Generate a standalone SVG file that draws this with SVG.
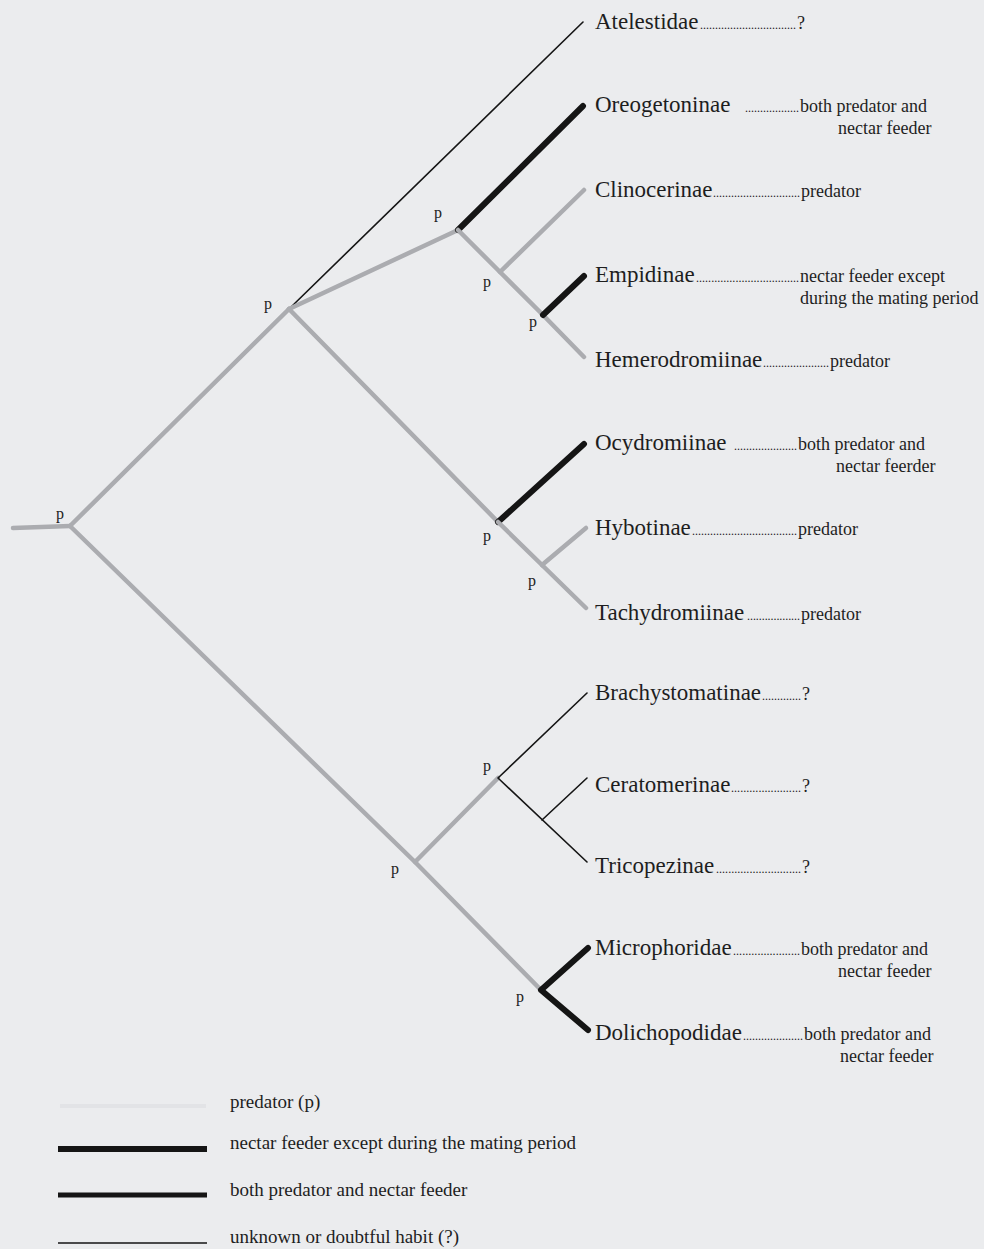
<svg xmlns="http://www.w3.org/2000/svg" width="984" height="1249" viewBox="0 0 984 1249">
<style>
.bg{fill:#ebecee}
.pr{fill:none;stroke:#abacb0;stroke-width:4.5;stroke-linecap:round;stroke-linejoin:round}
.nf{fill:none;stroke:#151515;stroke-width:6;stroke-linecap:round;stroke-linejoin:round}
.uk{fill:none;stroke:#151515;stroke-width:1.6;stroke-linecap:round;stroke-linejoin:round}
.nm{font-family:'Liberation Serif','Times New Roman',serif;font-size:23px;fill:#1e1e1e}
.dt{font-family:'Liberation Serif','Times New Roman',serif;font-size:12px;fill:#222}
.ds{font-family:'Liberation Serif','Times New Roman',serif;font-size:18px;fill:#1e1e1e}
.p{font-family:'Liberation Serif','Times New Roman',serif;font-size:16px;fill:#222;text-anchor:middle}
.lg{font-family:'Liberation Serif','Times New Roman',serif;font-size:19px;fill:#1e1e1e}
</style>
<rect class="bg" x="0" y="0" width="984" height="1249"/>
<g id="connectors">
<polyline class="pr" points="13,528 70,526"/>
<polyline class="pr" points="70,526 289,309"/>
<polyline class="pr" points="70,526 415,862 541,990"/>
<polyline class="uk" points="289,309 583,22"/>
<polyline class="pr" points="289,309 458,230"/>
<polyline class="pr" points="289,309 498,522"/>
<polyline class="nf" points="458,230 583,106"/>
<polyline class="pr" points="458,230 500,272 543,315 584,357"/>
<polyline class="pr" points="500,272 584,190"/>
<polyline class="nf" points="543,315 584,276"/>
<polyline class="nf" points="498,522 584,444"/>
<polyline class="pr" points="498,522 542,565 586,608"/>
<polyline class="pr" points="542,565 586,528"/>
<polyline class="pr" points="415,862 498,778"/>
<polyline class="uk" points="587,693 498,778 587,862"/>
<polyline class="uk" points="542,820 587,778"/>
<polyline class="nf" points="588,948 541,990 588,1030"/>
</g>
<g id="node-labels">
<text class="p" x="60" y="519">p</text>
<text class="p" x="268" y="309">p</text>
<text class="p" x="438" y="218">p</text>
<text class="p" x="487" y="287">p</text>
<text class="p" x="533" y="327">p</text>
<text class="p" x="487" y="541">p</text>
<text class="p" x="532" y="586">p</text>
<text class="p" x="487" y="771">p</text>
<text class="p" x="395" y="874">p</text>
<text class="p" x="520" y="1002">p</text>
</g>
<g id="atelestidae"><text class="nm" x="595" y="29">Atelestidae</text><text class="dt" x="700" y="29" textLength="96" lengthAdjust="spacing">................................</text><text class="ds" x="797" y="29">?</text></g>
<g id="oreogetoninae"><text class="nm" x="595" y="112">Oreogetoninae</text><text class="dt" x="745" y="112" textLength="54" lengthAdjust="spacing">..................</text><text class="ds" x="800" y="112">both predator and</text><text class="ds" x="838" y="134">nectar feeder</text></g>
<g id="clinocerinae"><text class="nm" x="595" y="197">Clinocerinae</text><text class="dt" x="713" y="197" textLength="87" lengthAdjust="spacing">.............................</text><text class="ds" x="801" y="197">predator</text></g>
<g id="empidinae"><text class="nm" x="595" y="282">Empidinae</text><text class="dt" x="696" y="282" textLength="103" lengthAdjust="spacing">..................................</text><text class="ds" x="800" y="282">nectar feeder except</text><text class="ds" x="800" y="304">during the mating period</text></g>
<g id="hemerodromiinae"><text class="nm" x="595" y="367">Hemerodromiinae</text><text class="dt" x="763" y="367" textLength="66" lengthAdjust="spacing">......................</text><text class="ds" x="830" y="367">predator</text></g>
<g id="ocydromiinae"><text class="nm" x="595" y="450">Ocydromiinae</text><text class="dt" x="734" y="450" textLength="63" lengthAdjust="spacing">.....................</text><text class="ds" x="798" y="450">both predator and</text><text class="ds" x="836" y="472">nectar feerder</text></g>
<g id="hybotinae"><text class="nm" x="595" y="535">Hybotinae</text><text class="dt" x="692" y="535" textLength="105" lengthAdjust="spacing">...................................</text><text class="ds" x="798" y="535">predator</text></g>
<g id="tachydromiinae"><text class="nm" x="595" y="620">Tachydromiinae</text><text class="dt" x="747" y="620" textLength="53" lengthAdjust="spacing">..................</text><text class="ds" x="801" y="620">predator</text></g>
<g id="brachystomatinae"><text class="nm" x="595" y="700">Brachystomatinae</text><text class="dt" x="762" y="700" textLength="39" lengthAdjust="spacing">.............</text><text class="ds" x="802" y="700">?</text></g>
<g id="ceratomerinae"><text class="nm" x="595" y="792">Ceratomerinae</text><text class="dt" x="731" y="792" textLength="70" lengthAdjust="spacing">.......................</text><text class="ds" x="802" y="792">?</text></g>
<g id="tricopezinae"><text class="nm" x="595" y="873">Tricopezinae</text><text class="dt" x="716" y="873" textLength="85" lengthAdjust="spacing">............................</text><text class="ds" x="802" y="873">?</text></g>
<g id="microphoridae"><text class="nm" x="595" y="955">Microphoridae</text><text class="dt" x="733" y="955" textLength="67" lengthAdjust="spacing">......................</text><text class="ds" x="801" y="955">both predator and</text><text class="ds" x="838" y="977">nectar feeder</text></g>
<g id="dolichopodidae"><text class="nm" x="595" y="1040">Dolichopodidae</text><text class="dt" x="743" y="1040" textLength="60" lengthAdjust="spacing">....................</text><text class="ds" x="804" y="1040">both predator and</text><text class="ds" x="840" y="1062">nectar feeder</text></g>
<g id="legend">
<line x1="60" y1="1106" x2="206" y2="1106" stroke="#e2e3e6" stroke-width="4"/>
<text class="lg" x="230" y="1108">predator (p)</text>
<line x1="58" y1="1149" x2="207" y2="1149" stroke="#151515" stroke-width="6"/>
<text class="lg" x="230" y="1149">nectar feeder except during the mating period</text>
<line x1="58" y1="1195" x2="207" y2="1195" stroke="#151515" stroke-width="5"/>
<text class="lg" x="230" y="1196">both predator and nectar feeder</text>
<line x1="58" y1="1243" x2="207" y2="1243" stroke="#151515" stroke-width="1.6"/>
<text class="lg" x="230" y="1243">unknown or doubtful habit (?)</text>
</g>
</svg>
